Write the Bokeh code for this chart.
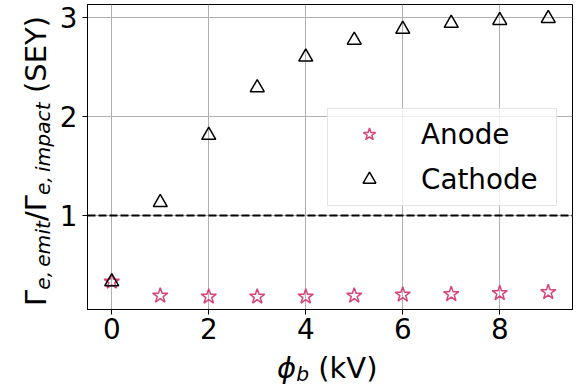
from bokeh.plotting import figure
from bokeh.models import Range1d, FixedTicker, Span, Div
from bokeh.layouts import row, column
from bokeh.embed import file_html
from bokeh.resources import INLINE

# ---- data ----
phi_b = [0, 1, 2, 3, 4, 5, 6, 7, 8, 9]
anode = [0.33, 0.19, 0.18, 0.18, 0.18, 0.19, 0.20, 0.205, 0.215, 0.225]
cathode = [0.33, 1.13, 1.81, 2.29, 2.60, 2.77, 2.88, 2.94, 2.97, 2.99]
x_ticks = [0, 2, 4, 6, 8]
y_ticks = [1, 2, 3]
sey_ref = 1.0

PINK = "#d9437b"
FONT = "DejaVu Sans"

X0, X1 = -0.5, 9.5
Y0, Y1 = 0.05, 3.13

YDIV_W = 56
FIG_W, FIG_H = 581 - YDIV_W, 350
XDIV_H = 388 - FIG_H

p = figure(width=FIG_W, height=FIG_H, output_backend="svg", toolbar_location=None,
           x_range=Range1d(X0, X1), y_range=Range1d(Y0, Y1),
           min_border_left=87 - YDIV_W, min_border_right=9,
           min_border_top=4, min_border_bottom=FIG_H - 309, margin=0)

p.background_fill_color = "white"
p.border_fill_color = "white"
p.outline_line_color = "black"
p.outline_line_width = 1

for ax, ticks in ((p.xaxis, x_ticks), (p.yaxis, y_ticks)):
    ax.ticker = FixedTicker(ticks=ticks)
    ax.major_label_text_font = FONT
    ax.major_label_text_font_size = "27.8px"
    ax.major_label_text_color = "black"
    ax.major_tick_out = 5
    ax.major_tick_in = 0
    ax.major_tick_line_color = "black"
    ax.minor_tick_line_color = None
    ax.axis_line_color = "black"
p.xaxis.major_label_standoff = 3
p.yaxis.major_label_standoff = 5

p.xgrid.ticker = FixedTicker(ticks=x_ticks)
p.ygrid.ticker = FixedTicker(ticks=y_ticks)
p.grid.grid_line_color = "#b0b0b0"
p.grid.grid_line_width = 1

p.add_layout(Span(location=sey_ref, dimension="width", line_color="black",
                  line_width=2, line_dash="8 3"))

p.scatter(phi_b, anode, marker="star", size=16, fill_color=None,
          line_color=PINK, line_width=1.5, legend_label="Anode")
p.scatter(phi_b, cathode, marker="triangle", size=14, fill_color=None,
          line_color="black", line_width=1.5, legend_label="Cathode")

lg = p.legend[0]
lg.location = "center_right"
lg.margin = 15
lg.label_text_font = FONT
lg.label_text_font_size = "27.8px"
lg.label_text_color = "black"
lg.glyph_width = 64
lg.glyph_height = 32
lg.label_height = 32
lg.label_width = 126
lg.label_standoff = 20
lg.spacing = 12
lg.padding = 9
lg.border_line_color = "#cccccc"
lg.border_line_width = 1
lg.background_fill_alpha = 0.8

# ---- axis titles as HTML text with subscripts ----
SUB = "font-size:0.7em;font-style:italic;position:relative;top:{}px;"
base = "font-family:'DejaVu Sans';font-size:29px;line-height:34px;color:black;white-space:nowrap;"

ylabel_html = (
    f'<div style="position:relative;width:{YDIV_W}px;height:388px;">'
    f'<div style="position:absolute;left:19px;top:306px;transform:rotate(-90deg);'
    f'transform-origin:0 0;{base}">'
    f'Γ<span style="{SUB.format(4)}">e,&thinsp;emit</span>/Γ'
    f'<span style="{SUB.format(4)}">e,&thinsp;impact</span> (SEY)</div></div>'
)
xlabel_html = (
    f'<div style="position:relative;width:{FIG_W}px;height:{XDIV_H}px;">'
    f'<div style="position:absolute;left:{277 - YDIV_W}px;top:1px;{base}">'
    f'<span style="font-style:italic;">ϕ</span>'
    f'<span style="{SUB.format(3)}">b</span> (kV)</div></div>'
)

ydiv = Div(text=ylabel_html, width=YDIV_W, height=388, margin=0)
xdiv = Div(text=xlabel_html, width=FIG_W, height=XDIV_H, margin=0)

layout = row(ydiv, column(p, xdiv, margin=0), margin=0)

open("out.html", "w").write(file_html(layout, INLINE))
